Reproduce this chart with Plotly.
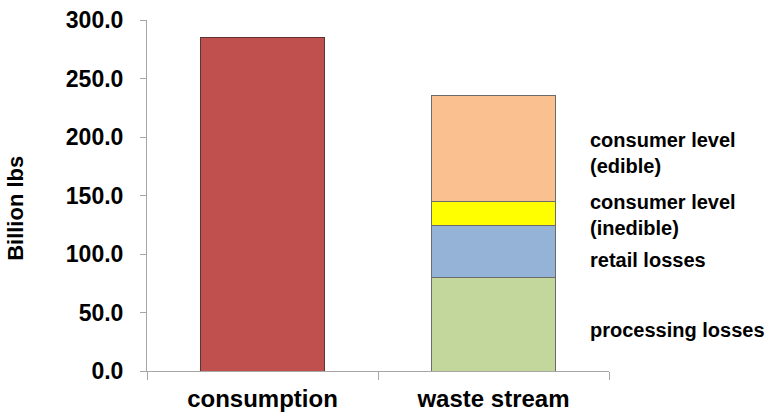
import plotly.graph_objects as go

# Food supply vs. waste stream (billion lbs)
categories = ["consumption", "waste stream"]
consumption = [285.0, None]
processing_losses = [None, 79.5]
retail_losses = [None, 44.5]
consumer_inedible = [None, 20.5]
consumer_edible = [None, 91.2]

segment_names = ["processing losses", "retail losses",
                 "consumer level<br>(inedible)", "consumer level<br>(edible)"]
segment_values = [processing_losses[1], retail_losses[1],
                  consumer_inedible[1], consumer_edible[1]]
segment_colors = ["#C3D69B", "#95B3D7", "#FFFF00", "#FAC090"]
label_shift = [-6, -8, -1, -4]

y_ticks = [0, 50, 100, 150, 200, 250, 300]
y_tick_text = [f"{v:.1f}" for v in y_ticks]

FONT = "Arial, Liberation Sans, sans-serif"
outline = dict(color="#6b6b6b", width=1)

fig = go.Figure()
fig.add_trace(go.Bar(x=categories, y=consumption, name="consumption",
                     marker=dict(color="#C0504D", line=dict(color="#5e3533", width=1))))
for name, vals, col in zip(segment_names,
                           [processing_losses, retail_losses, consumer_inedible, consumer_edible],
                           segment_colors):
    fig.add_trace(go.Bar(x=categories, y=vals, name=name,
                         marker=dict(color=col, line=outline)))

# Side labels next to each stacked segment
base = 0.0
for name, val, dy in zip(segment_names, segment_values, label_shift):
    mid = base + val / 2
    base += val
    fig.add_annotation(x=0.9545, xref="paper", y=mid, yref="y", text=name,
                       xanchor="left", yanchor="middle", align="left",
                       showarrow=False, yshift=dy,
                       font=dict(family=FONT, size=20, color="black", weight="bold"))

fig.add_annotation(x=-0.2835, xref="paper", y=0.462, yref="paper", text="Billion lbs",
                   textangle=-90, showarrow=False, xanchor="center", yanchor="middle",
                   font=dict(family=FONT, size=22, color="black", weight="bold"))

fig.update_layout(
    barmode="stack",
    bargap=0.46,
    showlegend=False,
    width=770, height=416,
    margin=dict(l=147, r=161, t=20, b=45),
    paper_bgcolor="white", plot_bgcolor="white",
    font=dict(family=FONT, color="black"),
)
fig.update_xaxes(
    automargin=False,
    showline=True, linecolor="#a6a6a6", linewidth=1,
    ticks="outside", tickson="boundaries", ticklen=8, tickcolor="#a6a6a6",
    tickfont=dict(family=FONT, size=24, color="black", weight="bold"),
    ticklabelstandoff=6,
    showgrid=False, zeroline=False,
)
fig.update_yaxes(
    automargin=False,
    range=[0, 300], tickvals=y_ticks, ticktext=y_tick_text,
    showline=True, linecolor="#a6a6a6", linewidth=1,
    ticks="outside", ticklen=6, tickcolor="#a6a6a6",
    tickfont=dict(family=FONT, size=23, color="black", weight="bold"),
    ticklabelstandoff=12,
    showgrid=False, zeroline=False,
)

fig.write_html("out.html")
